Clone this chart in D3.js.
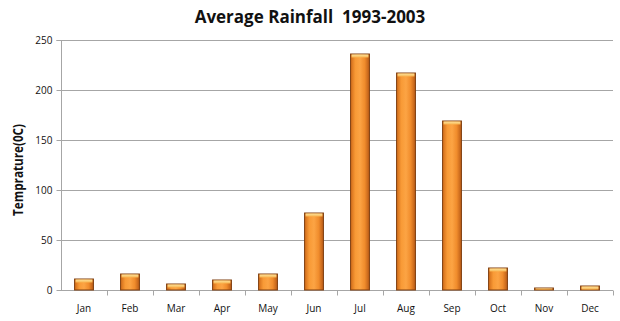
<!DOCTYPE html>
<html><head><meta charset="utf-8">
<script src="https://cdn.jsdelivr.net/npm/d3@7"></script>
<style>body{margin:0;background:#fff}svg{display:block}</style>
</head><body>
<script>
const months = ["Jan","Feb","Mar","Apr","May","Jun","Jul","Aug","Sep","Oct","Nov","Dec"];
const rainfall = [11, 16, 6, 10, 16, 77, 236, 217, 169, 22, 2, 4];
const yTicks = [0, 50, 100, 150, 200, 250];
const title = "Average Rainfall  1993-2003";
const yLabel = "Temprature(0C)";

const W = 620, H = 321;
const m = {left: 61, right: 7, top: 40, bottom: 31};
const svg = d3.select("body").append("svg").attr("width", W).attr("height", H);
const font = "'Open Sans', 'Noto Sans', sans-serif";

const defs = svg.append("defs");
const g1 = defs.append("linearGradient").attr("id","bar").attr("x1","0").attr("x2","1").attr("y1","0").attr("y2","0");
[["0%","#d06a18"],["25%","#f89a36"],["50%","#fca444"],["75%","#f08c2c"],["100%","#b95a16"]].forEach(([o,c])=>g1.append("stop").attr("offset",o).attr("stop-color",c));
const g2 = defs.append("linearGradient").attr("id","cap").attr("x1","0").attr("x2","0").attr("y1","0").attr("y2","1");
[["0%","#fde29a"],["100%","#f8b550"]].forEach(([o,c])=>g2.append("stop").attr("offset",o).attr("stop-color",c));

const x = d3.scaleBand().domain(months).range([m.left, W - m.right]).paddingInner(0.59).paddingOuter(0.295);
const xt = d3.scaleBand().domain(months).range([m.left, W - m.right]);
const y = d3.scaleLinear().domain([0, 250]).range([H - m.bottom, m.top]);

// gridlines
svg.append("g").selectAll("line").data(yTicks.filter(d=>d>0)).join("line")
  .attr("x1", m.left).attr("x2", W - m.right)
  .attr("y1", d=>Math.round(y(d))+0.5).attr("y2", d=>Math.round(y(d))+0.5)
  .attr("stroke", "#a6a6a6").attr("stroke-width", 1);

// y axis
const ya = svg.append("g").attr("transform", `translate(${m.left+0.5},0)`)
  .call(d3.axisLeft(y).tickValues(yTicks).tickSize(5).tickPadding(4));
ya.select(".domain").attr("stroke", "#a6a6a6").attr("d", `M-5,${y(250)+0.5}H0V${y(0)}`);
ya.selectAll(".tick line").attr("stroke", "#a6a6a6");
ya.selectAll("text").attr("font-family", font).attr("font-size", 10).attr("fill", "#111");

// x axis
const xa = svg.append("g").attr("transform", `translate(0,${Math.round(y(0))+0.5})`);
xa.append("line").attr("x1", m.left).attr("x2", W - m.right).attr("stroke", "#a6a6a6");
xa.selectAll("line.t").data(months).join("line").attr("class","t")
  .attr("x1", d=>Math.round(xt(d)+xt.bandwidth())+0.5).attr("x2", d=>Math.round(xt(d)+xt.bandwidth())+0.5)
  .attr("y1", 0).attr("y2", 5).attr("stroke", "#a6a6a6");
xa.selectAll("text").data(months).join("text")
  .attr("x", d=>xt(d)+xt.bandwidth()/2).attr("y", 21)
  .attr("text-anchor","middle").attr("font-family", font).attr("font-size", 10).attr("fill","#111")
  .text(d=>d);

// bars
const bars = svg.append("g").selectAll("g").data(months.map((mo,i)=>({mo, v: rainfall[i]}))).join("g");
bars.append("rect")
  .attr("x", d=>x(d.mo)).attr("width", x.bandwidth())
  .attr("y", d=>y(d.v)).attr("height", d=>y(0)-y(d.v))
  .attr("fill", "url(#bar)").attr("stroke", "#7f3f10").attr("stroke-width", 1);
bars.append("rect")
  .attr("x", d=>x(d.mo)+1).attr("width", x.bandwidth()-2)
  .attr("y", d=>y(d.v)+0.5).attr("height", d=>Math.min(3, Math.max(0, y(0)-y(d.v)-1)))
  .attr("fill", "url(#cap)");

// title
svg.append("text").attr("x", 310).attr("y", 23).attr("text-anchor","middle")
  .attr("font-family", font).attr("font-weight","bold").attr("font-size", 17).attr("fill","#111")
  .style("white-space","pre")
  .text(title);

// y label
svg.append("text").attr("transform", `translate(23,170) rotate(-90)`)
  .attr("text-anchor","middle").attr("font-family", font).attr("font-weight","bold").attr("font-size", 14).attr("fill","#111")
  .attr("textLength", 92).attr("lengthAdjust", "spacingAndGlyphs")
  .text(yLabel);
</script>
</body></html>
